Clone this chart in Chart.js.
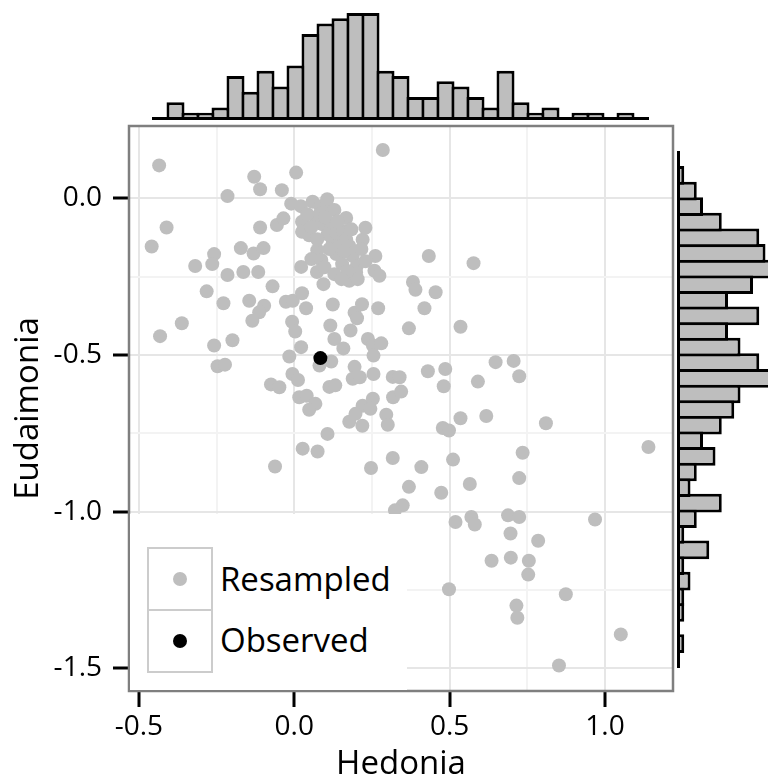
<!DOCTYPE html>
<html>
<head>
<meta charset="utf-8">
<script src="https://cdn.jsdelivr.net/npm/chart.js@4.4.0/dist/chart.umd.min.js"></script>
<style>
  html, body { margin: 0; padding: 0; background: #fff; overflow: hidden; }
  #wrap { position: relative; width: 768px; height: 782px; }
  #wrap canvas { position: absolute; }
  #legend { position: absolute; left: 130px; top: 514px; width: 277px; height: 176px; background: #fff;
            font-family: 'Open Sans', sans-serif; font-size: 33px; color: #000; }
  .key { position: absolute; left: 17px; width: 62px; height: 60px; border: 2px solid #cccccc; }
  .dot { position: absolute; left: 50%; top: 50%; width: 14px; height: 14px; margin: -7px 0 0 -7px; border-radius: 50%; }
  .lab { position: absolute; left: 90px; line-height: 1; white-space: nowrap; }
</style>
</head>
<body>
<div id="wrap">
  <canvas id="main" width="768" height="782" style="left:0;top:0"></canvas>
  <div id="legend">
    <div class="key" style="top:33px"><span class="dot" style="background:#bebebe"></span></div>
    <div class="key" style="top:95px"><span class="dot" style="background:#000"></span></div>
    <div class="lab" style="top:48px">Resampled</div>
    <div class="lab" style="top:109px">Observed</div>
  </div>
  <canvas id="topHist" width="768" height="125" style="left:0;top:0"></canvas>
  <canvas id="rightHist" width="128" height="782" style="left:640px;top:0"></canvas>
</div>
<script>
// resampled points (Hedonia, Eudaimonia)
const hedonia = [
  -0.435, 0.285, 0.006, -0.129, -0.110, -0.040, -0.215, -0.411, -0.459, -0.110,
  -0.056, -0.035, -0.010, 0.021, 0.059, 0.084, 0.107, 0.129, 0.167, 0.229,
  0.220, 0.025, 0.025, 0.048, -0.172, -0.131, -0.099, -0.258, -0.264, -0.319,
  -0.215, -0.164, -0.116, -0.282, -0.228, -0.145, -0.070, -0.097, -0.113, -0.135,
  -0.362, -0.432, -0.258, -0.199, -0.247, -0.223, -0.075, -0.048, 0.022, 0.073,
  0.074, 0.055, 0.087, 0.094, -0.027, -0.005, 0.025, 0.038, 0.124, -0.007,
  0.003, 0.022, -0.016, 0.116, 0.129, 0.158, 0.181, 0.194, 0.218, 0.202,
  0.270, 0.237, 0.253, 0.280, 0.255, 0.119, 0.081, 0.194, 0.188, 0.211,
  0.255, -0.006, 0.012, 0.113, 0.132, 0.016, 0.040, 0.068, 0.048, 0.220,
  0.253, 0.317, 0.318, 0.261, 0.258, 0.274, 0.188, 0.201, 0.177, 0.154,
  0.135, 0.124, 0.145, 0.070, 0.091, 0.081, 0.118, 0.107, 0.135, 0.156,
  0.167, 0.145, 0.177, 0.199, 0.204, 0.433, 0.577, 0.382, 0.390, 0.455,
  0.419, 0.369, 0.535, 0.648, 0.706, 0.724, 0.591, 0.430, 0.486, 0.481,
  0.339, 0.344, 0.296, 0.301, 0.535, 0.618, 0.810, 0.478, 0.498, 1.140,
  0.317, 0.409, 0.511, 0.735, 0.369, 0.473, 0.565, 0.724, 0.349, 0.324,
  0.519, 0.570, 0.581, 0.688, 0.724, 0.968, 0.696, 0.785, 0.635, 0.697,
  0.755, 0.753, 0.498, 0.874, 0.715, 0.718, 1.051, 0.852, 0.177, 0.219,
  0.197, 0.245, 0.107, 0.027, 0.075, -0.062, 0.247, 0.100, 0.139, 0.074,
  0.113, 0.161, 0.097, 0.129, 0.171, 0.042, 0.184, 0.152, 0.216, 0.229,
  0.055, 0.106
];
const eudaimonia = [
  0.105, 0.154, 0.082, 0.069, 0.029, 0.026, 0.007, -0.093, -0.154, -0.093,
  -0.085, -0.064, -0.017, -0.025, -0.011, -0.025, -0.027, -0.037, -0.063, -0.094,
  -0.132, -0.075, -0.107, -0.118, -0.159, -0.176, -0.159, -0.178, -0.210, -0.216,
  -0.245, -0.235, -0.235, -0.297, -0.335, -0.327, -0.281, -0.343, -0.364, -0.391,
  -0.399, -0.440, -0.470, -0.453, -0.536, -0.531, -0.594, -0.603, -0.219, -0.235,
  -0.166, -0.194, -0.197, -0.274, -0.330, -0.327, -0.303, -0.351, -0.339, -0.394,
  -0.425, -0.475, -0.505, -0.406, -0.449, -0.479, -0.422, -0.365, -0.338, -0.383,
  -0.351, -0.449, -0.470, -0.463, -0.502, -0.521, -0.534, -0.538, -0.576, -0.571,
  -0.561, -0.561, -0.580, -0.602, -0.597, -0.635, -0.630, -0.656, -0.675, -0.662,
  -0.640, -0.570, -0.635, -0.184, -0.231, -0.247, -0.184, -0.216, -0.263, -0.210,
  -0.178, -0.143, -0.120, -0.067, -0.083, -0.051, -0.093, -0.115, -0.109, -0.104,
  -0.131, -0.157, -0.152, -0.237, -0.258, -0.184, -0.207, -0.267, -0.292, -0.300,
  -0.351, -0.415, -0.410, -0.523, -0.519, -0.568, -0.585, -0.552, -0.545, -0.600,
  -0.571, -0.617, -0.691, -0.723, -0.702, -0.695, -0.718, -0.733, -0.741, -0.794,
  -0.829, -0.858, -0.834, -0.812, -0.921, -0.940, -0.912, -0.893, -0.980, -0.996,
  -1.033, -1.017, -1.041, -1.012, -1.017, -1.025, -1.070, -1.093, -1.157, -1.147,
  -1.157, -1.201, -1.248, -1.264, -1.300, -1.339, -1.392, -1.491, -0.713, -0.726,
  -0.688, -0.672, -0.752, -0.799, -0.808, -0.856, -0.861, -0.061, -0.073, -0.131,
  -0.162, -0.169, -0.220, -0.242, -0.232, -0.051, -0.099, -0.258, -0.162, -0.201,
  -0.092, -0.003
];
const observedHedonia = [0.084];
const observedEudaimonia = [-0.510];

// marginal histogram counts, 33 bins each, lowest value first
const hedoniaCounts = [0, 3, 1, 1, 2, 8, 5, 9, 6, 10, 16, 18, 19, 20, 20, 9, 8,
                       4, 4, 7, 6, 4, 2, 9, 3, 1, 2, 0, 1, 1, 0, 1, 0];
const eudaimoniaCounts = [0, 1, 0, 1, 1, 2, 1, 5, 1, 3, 7, 2, 3, 6, 4, 7, 9,
                          10, 16, 13, 10, 8, 13, 8, 12, 15, 14, 13, 7, 4, 3, 1, 0];

// grid positions; labels only on the major ones
const xGrid = [-0.5, -0.25, 0, 0.25, 0.5, 0.75, 1.0];
const yGrid = [-1.5, -1.25, -1.0, -0.75, -0.5, -0.25, 0];

Chart.defaults.font.family = "'Open Sans', sans-serif";
Chart.defaults.color = '#000';

function isMajor(v) {
    return Math.abs(v * 2 - Math.round(v * 2)) < 1e-9;
}

// grey frame round the panel
const panelBorder = {
    id: 'panelBorder',
    afterDatasetsDraw(chart) {
        const {ctx, chartArea: a} = chart;
        ctx.save();
        ctx.strokeStyle = '#7f7f7f';
        ctx.lineWidth = 2.5;
        ctx.strokeRect(a.left, a.top, a.right - a.left, a.bottom - a.top);
        ctx.restore();
    }
};

function axisOptions(grid, min, max, title) {
    return {
        type: 'linear',
        min: min,
        max: max,
        afterBuildTicks: function (scale) {
            scale.ticks = grid.map(v => ({value: v}));
        },
        grid: {
            color: c => isMajor(c.tick.value) ? '#e6e6e6' : '#f3f3f3',
            lineWidth: 2,
            tickLength: 16,
            tickWidth: 3,
            tickColor: c => isMajor(c.tick.value) ? '#000' : 'rgba(0,0,0,0)'
        },
        border: { display: false },
        ticks: {
            autoSkip: false,
            maxRotation: 0,
            color: '#000',
            font: { size: 28 },
            callback: v => isMajor(v) ? v.toFixed(1) : ''
        },
        title: {
            display: true,
            text: title,
            color: '#000',
            font: { size: 33, lineHeight: 1 }
        }
    };
}

var xAxis = axisOptions(xGrid, -0.532, 1.219, 'Hedonia');
xAxis.ticks.padding = 3;
xAxis.title.padding = { top: 0, bottom: 1 };
xAxis.afterFit = s => { s.height = 91; };

var yAxis = axisOptions(yGrid, -1.5726, 0.2308, 'Eudaimonia');
yAxis.ticks.padding = 11;
yAxis.title.padding = { top: 12, bottom: 0 };
yAxis.afterFit = s => { s.width = 129; };

var mainChart = new Chart(document.getElementById('main'), {
    type: 'scatter',
    data: {
        datasets: [{
            label: 'Observed',
            data: observedHedonia.map((x, i) => ({x: x, y: observedEudaimonia[i]})),
            backgroundColor: '#000',
            pointRadius: 7,
            pointBorderWidth: 0,
            order: 0
        }, {
            label: 'Resampled',
            data: hedonia.map((x, i) => ({x: x, y: eudaimonia[i]})),
            backgroundColor: '#bebebe',
            pointRadius: 7,
            pointBorderWidth: 0,
            order: 1
        }]
    },
    options: {
        responsive: false,
        animation: false,
        layout: { padding: { top: 126, right: 95, left: 0, bottom: 0 } },
        plugins: { legend: { display: false }, tooltip: { enabled: false } },
        scales: { x: xAxis, y: yAxis }
    },
    plugins: [panelBorder]
});

// bars a bit wider than their bin so neighbouring outlines overlap into one line
function histBars(counts) {
    return {
        labels: counts.map((c, i) => i),
        datasets: [{
            data: counts,
            backgroundColor: '#bebebe',
            borderColor: '#000',
            borderWidth: 3,
            categoryPercentage: 1,
            barPercentage: 1.2
        }]
    };
}

var topHist = new Chart(document.getElementById('topHist'), {
    type: 'bar',
    data: histBars(hedoniaCounts),
    options: {
        responsive: false,
        animation: false,
        layout: { padding: { left: 153, right: 120, top: 13, bottom: 7 } },
        plugins: { legend: { display: false }, tooltip: { enabled: false } },
        scales: {
            x: {
                grid: { display: false },
                ticks: { display: false },
                border: { display: true, color: '#000', width: 3, z: 1 },
                afterFit: s => { s.height = 0; }
            },
            y: { display: false, min: 0, max: 20 }
        }
    }
});

var rightHist = new Chart(document.getElementById('rightHist'), {
    type: 'bar',
    data: histBars(eudaimoniaCounts),
    options: {
        indexAxis: 'y',
        responsive: false,
        animation: false,
        layout: { padding: { left: 38, right: 0, top: 152, bottom: 115 } },
        plugins: { legend: { display: false }, tooltip: { enabled: false } },
        scales: {
            y: {
                reverse: true,
                grid: { display: false },
                ticks: { display: false },
                border: { display: true, color: '#000', width: 3, z: 1 },
                afterFit: s => { s.width = 0; }
            },
            x: { display: false, min: 0, max: 14.4 }
        }
    }
});
</script>
</body>
</html>
